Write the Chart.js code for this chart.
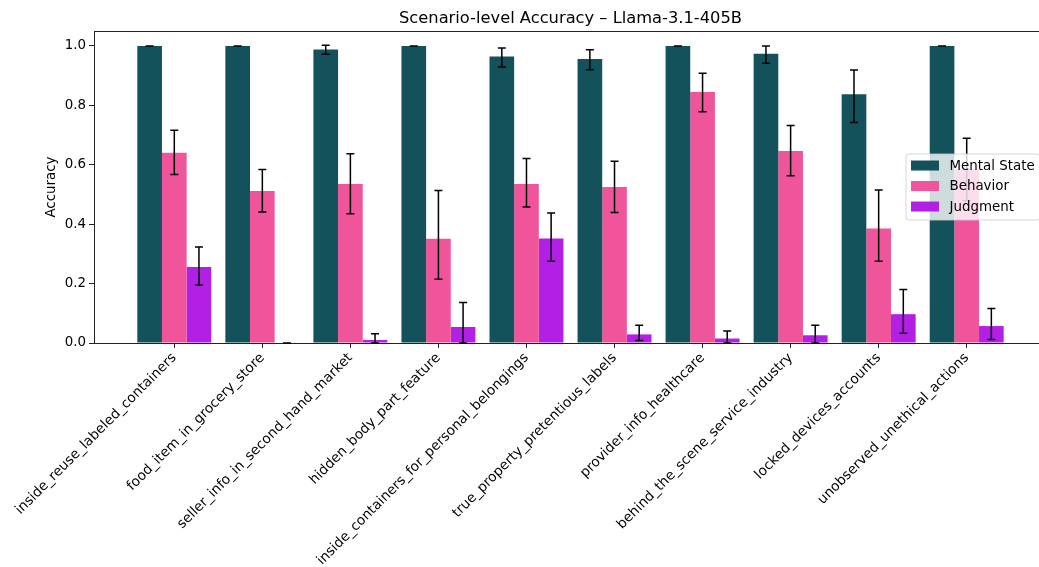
<!DOCTYPE html>
<html>
<head>
<meta charset="utf-8">
<script src="https://cdn.jsdelivr.net/npm/chart.js@4/dist/chart.umd.min.js"></script>
<style>
  html, body { margin: 0; padding: 0; background: #fff; overflow: hidden; }
  #wrap { position: absolute; left: 0; top: 0; width: 1060px; height: 567px; }
</style>
</head>
<body>
<div id="wrap"><canvas id="c" width="1060" height="567"></canvas></div>
<script>
// Scenarios on the x axis
const categories = [
  'inside_reuse_labeled_containers',
  'food_item_in_grocery_store',
  'seller_info_in_second_hand_market',
  'hidden_body_part_feature',
  'inside_containers_for_personal_belongings',
  'true_property_pretentious_labels',
  'provider_info_healthcare',
  'behind_the_scene_service_industry',
  'locked_devices_accounts',
  'unobserved_unethical_actions'
];

const seriesNames = ['Mental State', 'Behavior', 'Judgment'];

// Mean accuracy per scenario, with lower / upper error bounds
const mentalState   = [1.000, 1.000, 0.988, 1.000, 0.964, 0.956, 1.000, 0.974, 0.837, 1.000];
const mentalStateLo = [1.000, 1.000, 0.972, 1.000, 0.929, 0.920, 1.000, 0.942, 0.742, 1.000];
const mentalStateHi = [1.000, 1.000, 1.002, 1.000, 0.993, 0.987, 1.000, 1.000, 0.919, 1.000];

const behavior   = [0.640, 0.512, 0.535, 0.351, 0.535, 0.525, 0.845, 0.646, 0.385, 0.585];
const behaviorLo = [0.567, 0.441, 0.435, 0.215, 0.458, 0.439, 0.778, 0.563, 0.275, 0.479];
const behaviorHi = [0.716, 0.584, 0.637, 0.513, 0.621, 0.612, 0.908, 0.732, 0.515, 0.689];

const judgment   = [0.256, 0.000, 0.010, 0.054, 0.352, 0.029, 0.015, 0.026, 0.097, 0.057];
const judgmentLo = [0.195, 0.000, 0.000, 0.000, 0.275, 0.008, 0.000, 0.000, 0.033, 0.012];
const judgmentHi = [0.323, 0.000, 0.031, 0.136, 0.438, 0.060, 0.040, 0.060, 0.180, 0.116];

const yTicks = [0, 0.2, 0.4, 0.6, 0.8, 1.0];

const colors = ['#13525a', '#f0559c', '#b21fe5'];
const FONT = 'DejaVu Sans';
const SMALL = 13.4;

const values = [mentalState, behavior, judgment];
const lows = [mentalStateLo, behaviorLo, judgmentLo];
const highs = [mentalStateHi, behaviorHi, judgmentHi];

const datasets = seriesNames.map((name, k) => ({
  label: name,
  data: values[k].map((v, i) => ({ x: i, y: v })),
  backgroundColor: colors[k],
  borderWidth: 0,
  categoryPercentage: 0.84,
  barPercentage: 1.0,
  errLo: lows[k],
  errHi: highs[k]
}));

// Vertical error bars with caps
const errorBars = {
  id: 'errorBars',
  afterDatasetsDraw(chart) {
    const ctx = chart.ctx;
    const y = chart.scales.y;
    ctx.save();
    ctx.strokeStyle = '#000';
    ctx.lineWidth = 1.5;
    chart.data.datasets.forEach((ds, k) => {
      const meta = chart.getDatasetMeta(k);
      meta.data.forEach((bar, i) => {
        const x = bar.x;
        const yl = y.getPixelForValue(ds.errLo[i]);
        const yh = y.getPixelForValue(ds.errHi[i]);
        ctx.beginPath();
        ctx.moveTo(x, yl); ctx.lineTo(x, yh);
        ctx.moveTo(x - 4, yl); ctx.lineTo(x + 4, yl);
        ctx.moveTo(x - 4, yh); ctx.lineTo(x + 4, yh);
        ctx.stroke();
      });
    });
    ctx.restore();
  }
};

// Top and right spines, then the legend box at the centre right of the axes
const frameAndLegend = {
  id: 'frameAndLegend',
  afterDraw(chart) {
    const ctx = chart.ctx;
    const a = chart.chartArea;
    ctx.save();
    ctx.strokeStyle = '#222';
    ctx.lineWidth = 1;
    ctx.beginPath();
    ctx.moveTo(Math.round(a.left) + 0.5, Math.round(a.top) + 0.5);
    ctx.lineTo(Math.round(a.right) + 0.5, Math.round(a.top) + 0.5);
    ctx.lineTo(Math.round(a.right) + 0.5, Math.round(a.bottom) + 0.5);
    ctx.stroke();

    const w = 134, h = 66;
    const bx = a.right - 7 - w;
    const by = (a.top + a.bottom) / 2 - h / 2;
    const r = 3;
    ctx.beginPath();
    ctx.moveTo(bx + r, by);
    ctx.lineTo(bx + w - r, by);
    ctx.arcTo(bx + w, by, bx + w, by + r, r);
    ctx.lineTo(bx + w, by + h - r);
    ctx.arcTo(bx + w, by + h, bx + w - r, by + h, r);
    ctx.lineTo(bx + r, by + h);
    ctx.arcTo(bx, by + h, bx, by + h - r, r);
    ctx.lineTo(bx, by + r);
    ctx.arcTo(bx, by, bx + r, by, r);
    ctx.closePath();
    ctx.fillStyle = 'rgba(255,255,255,0.8)';
    ctx.fill();
    ctx.strokeStyle = 'rgba(204,204,204,0.8)';
    ctx.lineWidth = 1;
    ctx.stroke();

    ctx.font = SMALL + 'px "' + FONT + '"';
    ctx.textBaseline = 'middle';
    ctx.textAlign = 'left';
    seriesNames.forEach((name, k) => {
      const cy = by + 11.5 + k * 20.5;
      ctx.fillStyle = colors[k];
      ctx.fillRect(bx + 5, cy - 5, 28, 10);
      ctx.fillStyle = '#000';
      ctx.fillText(name, bx + 43.5, cy + 0.5);
    });
    ctx.restore();
  }
};

new Chart(document.getElementById('c'), {
  type: 'bar',
  data: { datasets },
  options: {
    responsive: false,
    devicePixelRatio: 1,
    animation: false,
    layout: { padding: { left: 0, right: 13, top: 0, bottom: 0 } },
    plugins: {
      legend: { display: false },
      tooltip: { enabled: false },
      title: {
        display: true,
        fullSize: false,
        text: 'Scenario-level Accuracy – Llama-3.1-405B',
        color: '#000',
        font: { family: FONT, size: 16.3, weight: 'normal' },
        padding: { top: 8.5, bottom: 3 }
      }
    },
    scales: {
      x: {
        type: 'linear',
        offset: false,
        min: -0.912,
        max: 9.912,
        afterBuildTicks: s => { s.ticks = categories.map((_, i) => ({ value: i })); },
        afterFit: s => { s.height = 224; },
        ticks: {
          autoSkip: false,
          minRotation: 45,
          maxRotation: 45,
          padding: 2,
          color: '#000',
          font: { family: FONT, size: 13.7 },
          callback: v => categories[v]
        },
        grid: { offset: false, drawOnChartArea: false, tickLength: 5, color: '#222' },
        border: { color: '#222', width: 1 }
      },
      y: {
        min: 0,
        max: 1.05,
        afterBuildTicks: s => { s.ticks = yTicks.map(v => ({ value: v })); },
        afterFit: s => { s.width = 94; },
        ticks: {
          padding: 3,
          color: '#000',
          font: { family: FONT, size: SMALL },
          callback: v => v.toFixed(1)
        },
        title: {
          display: true,
          text: 'Accuracy',
          color: '#000',
          font: { family: FONT, size: SMALL },
          padding: { top: 43, bottom: 0 }
        },
        grid: { drawOnChartArea: false, tickLength: 5, color: '#222' },
        border: { color: '#222', width: 1 }
      }
    }
  },
  plugins: [errorBars, frameAndLegend]
});
</script>
</body>
</html>
